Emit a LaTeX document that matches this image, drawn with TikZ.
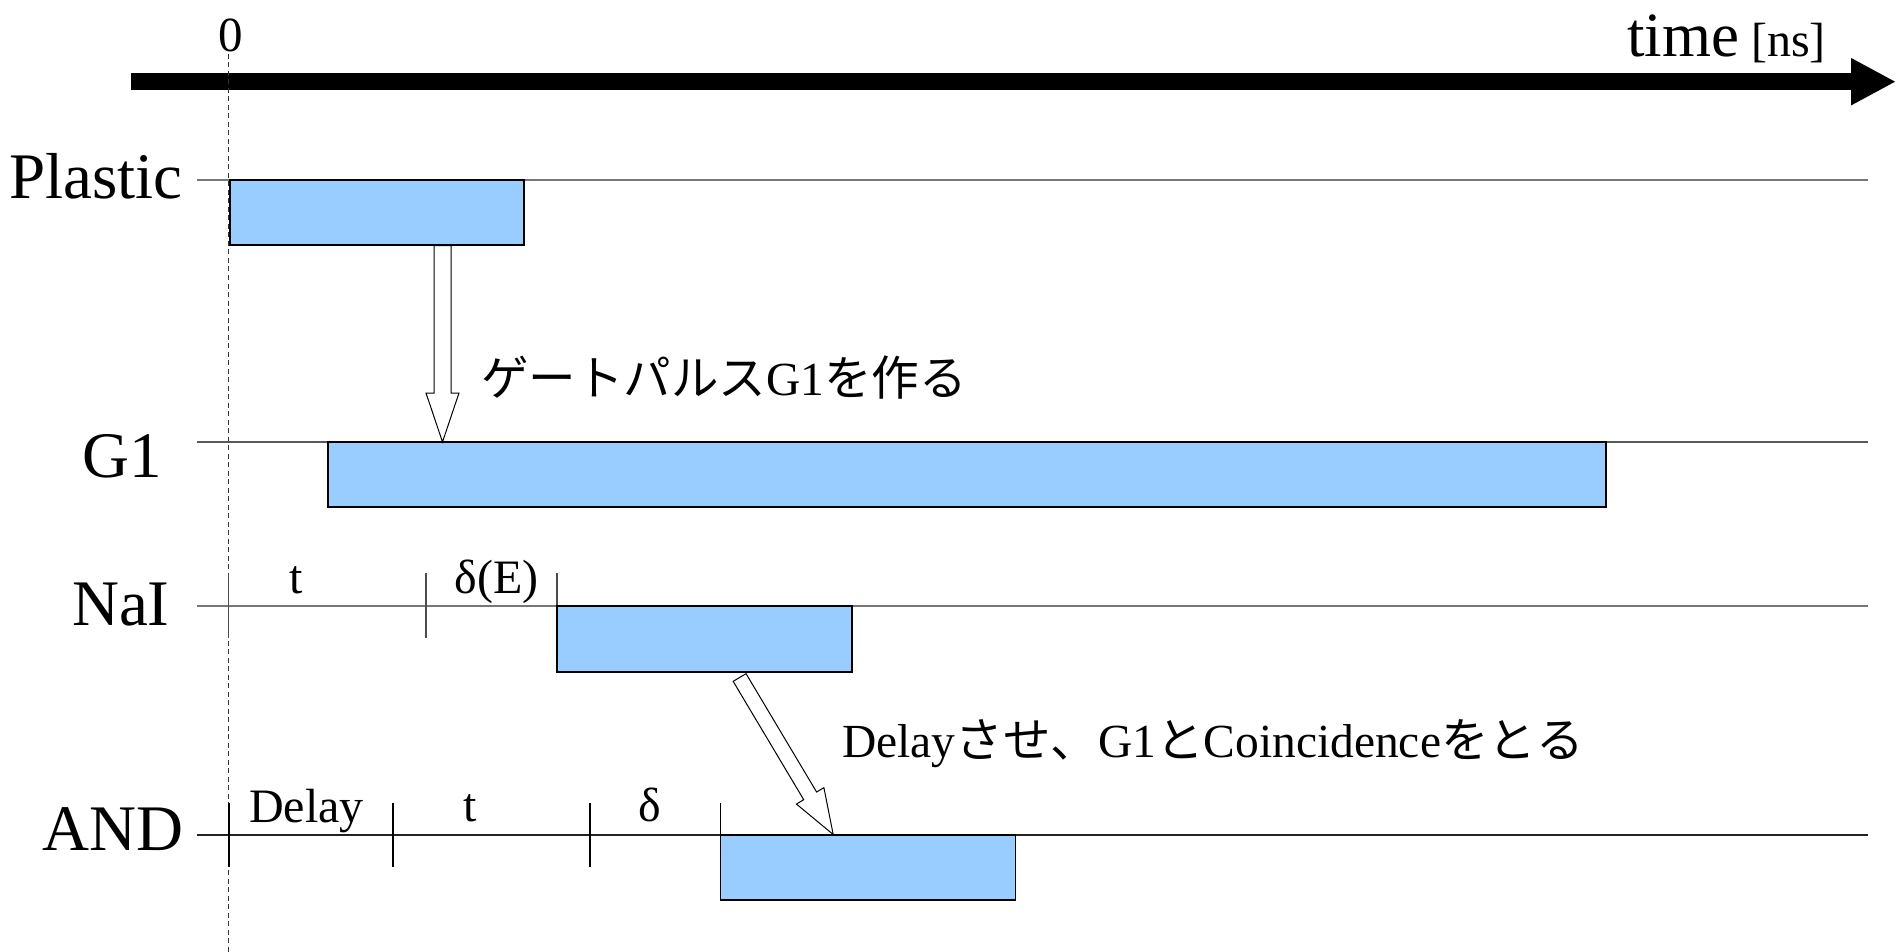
\documentclass[tikz,border=0pt]{standalone}
\usepackage{fontspec}
\setmainfont{Liberation Serif}
\newfontfamily\jp{Noto Sans CJK JP}
\usetikzlibrary{arrows.meta,calc}
\definecolor{pulseblue}{HTML}{99CCFF}
\definecolor{lineA}{HTML}{777777}
\definecolor{lineB}{HTML}{222222}
\tikzset{
  pulse/.style={draw=black, line width=1.2pt, fill=pulseblue, inner sep=0pt, outer sep=0pt, anchor=north west},
  biglabel/.style={inner sep=0pt, anchor=base west, font=\fontsize{65}{65}\selectfont},
  smalllabel/.style={inner sep=0pt, anchor=base, font=\fontsize{48}{48}\selectfont},
  note/.style={inner sep=0pt, anchor=base west, font=\fontsize{47.5}{47.5}\selectfont},
  timeline/.style={line width=1.5pt, draw=lineA},
  tickmark/.style={line width=1.3pt, draw=black!70},
  hollow/.style={draw=black, fill=white, line width=1pt, line join=miter},
  zeroline/.style={dash pattern=on 5pt off 3.5pt, line width=1.2pt, draw=black!80},
}
% #1 start, #2 tip, #3 half shaft width, #4 half head width, #5 head length
\newcommand\hollowarrow[5]{%
  \coordinate (hb) at ($(#2)!#5!(#1)$);
  \draw[hollow] ($(#1)!#3!90:(#2)$) -- ($(hb)!#3!-90:(#1)$) -- ($(hb)!#4!-90:(#1)$)
    -- (#2) -- ($(hb)!#4!90:(#1)$) -- ($(hb)!#3!90:(#1)$) -- ($(#1)!#3!-90:(#2)$) -- cycle;
}
\begin{document}
\begin{tikzpicture}[x=1pt,y=-1pt]
\useasboundingbox (0,0) rectangle (1896,952);

% time axis
\coordinate (axS) at (131,81.7);
\coordinate (axE) at (1896,81.7);
\draw[line width=16.7pt, -{Triangle[length=45pt,width=44pt]}] (axS) -- (axE);
\node[inner sep=0pt, anchor=base] (zero) at (231,52) {\fontsize{49}{49}\selectfont 0};
\node[inner sep=0pt, anchor=base west] (timelbl) at (1627,57)
  {\fontsize{63}{63}\selectfont time\fontsize{48}{48}\selectfont\ [ns]};

% zero dashed line
\coordinate (z0) at (228.5,54);
\coordinate (z1) at (228.5,952);
\draw[zeroline] (z0) -- (z1);

% time lines
\coordinate (plL) at (197,180);  \coordinate (plR) at (1868,180);
\coordinate (g1L) at (197,442);  \coordinate (g1R) at (1868,442);
\coordinate (naL) at (197,606);  \coordinate (naR) at (1868,606);
\coordinate (anL) at (197,835);  \coordinate (anR) at (1868,835);
\draw[timeline] (plL) -- (plR);
\draw[timeline, draw=black!65] (g1L) -- (g1R);
\draw[timeline] (naL) -- (naR);
\draw[timeline, draw=lineB] (anL) -- (anR);

% row labels
\node[biglabel] (plastic) at (9,199) {Plastic};
\node[biglabel] (g1lbl) at (82,477) {G1};
\node[biglabel] (nailbl) at (72,625) {NaI};
\node[biglabel] (andlbl) at (42,850) {AND};

% ticks on NaI row
\coordinate (nt1a) at (228.5,573); \coordinate (nt1b) at (228.5,638);
\coordinate (nt2a) at (426,573);   \coordinate (nt2b) at (426,638);
\coordinate (nt3a) at (557,573);   \coordinate (nt3b) at (557,606);
\draw[tickmark] (nt1a) -- (nt1b);
\draw[tickmark] (nt2a) -- (nt2b);
\draw[tickmark] (nt3a) -- (nt3b);
\node[smalllabel] (nat) at (296,593) {t};
\node[smalllabel] (nade) at (496.5,593) {δ(E)};

% ticks on AND row
\coordinate (at1a) at (229,803); \coordinate (at1b) at (229,867);
\coordinate (at2a) at (393,803); \coordinate (at2b) at (393,867);
\coordinate (at3a) at (590,803); \coordinate (at3b) at (590,867);
\coordinate (at4a) at (720.7,803); \coordinate (at4b) at (720.7,835);
\draw[tickmark, draw=black] (at1a) -- (at1b);
\draw[tickmark, draw=black] (at2a) -- (at2b);
\draw[tickmark, draw=black] (at3a) -- (at3b);
\draw[tickmark, draw=black] (at4a) -- (at4b);
\node[smalllabel, anchor=base west] (andelay) at (249,822) {Delay};
\node[smalllabel] (andt) at (470,821) {t};
\node[smalllabel] (andd) at (650,821) {δ};

% pulses
\node[pulse, minimum width=294pt, minimum height=65pt] (plbox) at (230,180) {};
\node[pulse, minimum width=1278pt, minimum height=65pt] (g1box) at (328,442) {};
\node[pulse, minimum width=295pt, minimum height=66pt] (naibox) at (557,606) {};
\node[pulse, minimum width=295pt, minimum height=65pt] (andbox) at (720.7,835) {};

% hollow arrows
\coordinate (a1s) at (442.5,245.6);
\coordinate (a1t) at (a1s |- g1box.north);
\hollowarrow{a1s}{a1t}{8.5pt}{16.5pt}{49pt}
\coordinate (a2s) at (739.6,677.5);
\coordinate (a2t) at (833.2,834.5);
\hollowarrow{a2s}{a2t}{7.5pt}{16pt}{45pt}

% notes
\node[note] (note1) at (481,395) {{\jp ゲートパルス}G1{\jp を作る}};
\node[note] (note2) at (842,757) {Delay{\jp させ、}G1{\jp と}Coincidence{\jp をとる}};
\end{tikzpicture}
\end{document}
